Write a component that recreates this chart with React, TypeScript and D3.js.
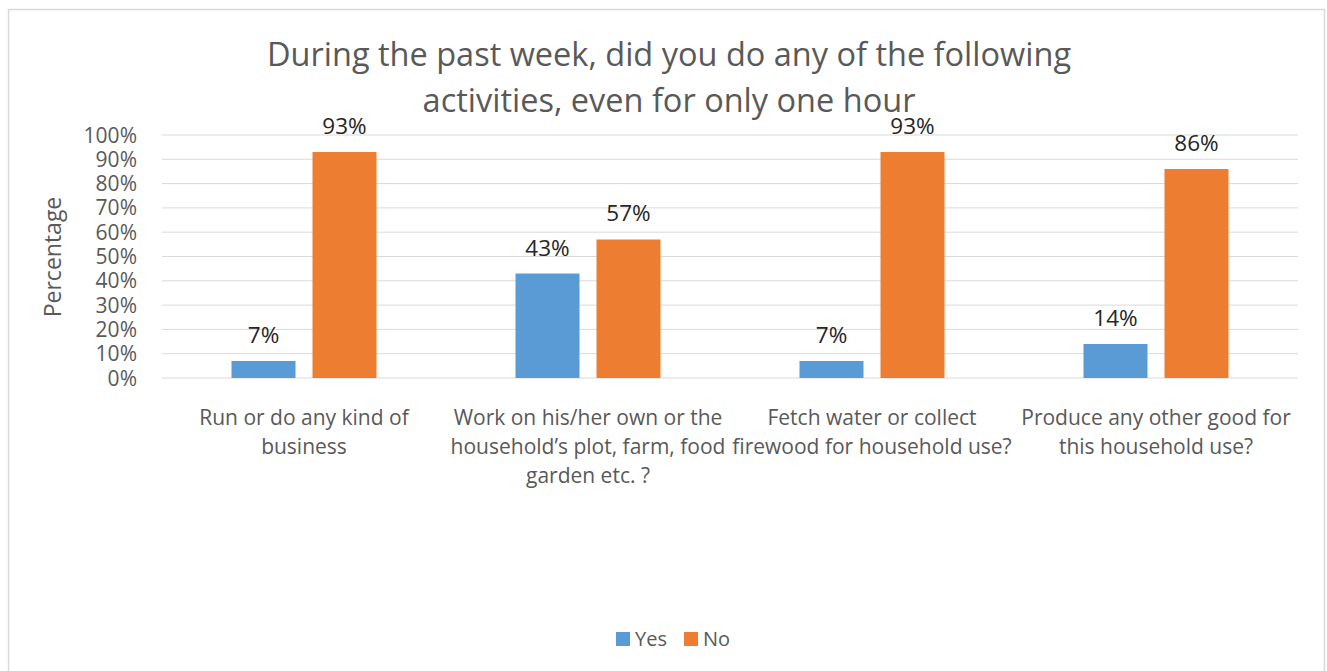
import React from "react";
import * as d3 from "d3";

const categories = [
  "Run or do any kind of\nbusiness",
  "Work on his/her own or the\nhousehold’s plot, farm, food\ngarden etc. ?",
  "Fetch water or collect\nfirewood for household use?",
  "Produce any other good for\nthis household use?",
];
const seriesNames = ["Yes", "No"];
const yesValues = [7, 43, 7, 14];
const noValues = [93, 57, 93, 86];
const yTicks = [0, 10, 20, 30, 40, 50, 60, 70, 80, 90, 100];
const colors = ["#5b9bd5", "#ed7d31"];

const FONT = "'Open Sans', sans-serif";

export default function App() {
  const W = 1327, H = 671;
  const left = 162, right = 1298, top = 135, bottom = 378;
  const x0 = d3.scaleBand<number>().domain(d3.range(categories.length)).range([left, right]);
  const y = d3.scaleLinear().domain([0, 100]).range([bottom, top]);
  const series = [yesValues, noValues];
  const barW = 64;
  const offsets = [-40.5, 40.5];

  return (
    <svg width={W} height={H} style={{ position: "absolute", left: 0, top: 0 }} fontFamily={FONT}>
      <rect x={0} y={0} width={W} height={H} fill="#ffffff" />
      <rect x={8.5} y={9.5} width={1316} height={700} fill="#ffffff" stroke="#d9d9d9" strokeWidth={1.5} />
      <text x={669} y={66} textAnchor="middle" fontSize={32.5} fill="#595959">
        During the past week, did you do any of the following
      </text>
      <text x={669} y={112} textAnchor="middle" fontSize={32.5} fill="#595959">
        activities, even for only one hour
      </text>
      {yTicks.map((t) => (
        <g key={t}>
          <line x1={left} x2={right} y1={y(t)} y2={y(t)} stroke="#d9d9d9" strokeWidth={1} />
          <text x={137} y={y(t) + 7.5} textAnchor="end" fontSize={21} fill="#595959">
            {t}%
          </text>
        </g>
      ))}
      <text transform={`translate(61,257) rotate(-90)`} textAnchor="middle" fontSize={23} fill="#595959">
        Percentage
      </text>
      {categories.map((c, i) => {
        const cx = (x0(i) as number) + x0.bandwidth() / 2;
        return (
          <g key={i}>
            {series.map((vals, s) => {
              const bx = cx + offsets[s] - barW / 2;
              return (
                <g key={s}>
                  <rect x={bx} y={y(vals[i])} width={barW} height={bottom - y(vals[i])} fill={colors[s]} />
                  <text x={cx + offsets[s]} y={y(vals[i]) - 18} textAnchor="middle" fontSize={22.5} fill="#262626">
                    {vals[i]}%
                  </text>
                </g>
              );
            })}
            {c.split("\n").map((line, k) => (
              <text key={k} x={cx} y={425 + k * 29} textAnchor="middle" fontSize={21} fill="#595959">
                {line}
              </text>
            ))}
          </g>
        );
      })}
      {seriesNames.map((n, s) => {
        const lx = s === 0 ? 616 : 684;
        return (
          <g key={n}>
            <rect x={lx} y={632} width={14} height={14} fill={colors[s]} />
            <text x={lx + 19} y={646} fontSize={20} fill="#595959">
              {n}
            </text>
          </g>
        );
      })}
    </svg>
  );
}
